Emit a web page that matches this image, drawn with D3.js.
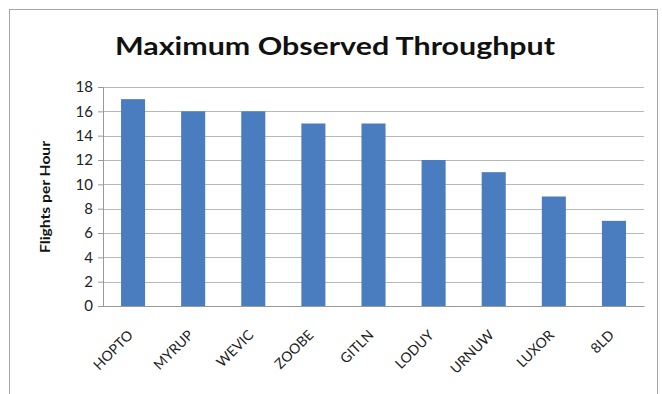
<!DOCTYPE html>
<html lang="en">
  <head>
    <meta charset="utf-8" />
    <title>Maximum Observed Throughput</title>
    <script src="https://cdn.jsdelivr.net/npm/d3@7"></script>
    <style>
      body { margin: 0; background: #fff; }
      text { font-family: Lato, "Open Sans", sans-serif; }
    </style>
  </head>
  <body>
    <div id="chart"></div>
    <script>
    // data
    var fixes = ["HOPTO", "MYRUP", "WEVIC", "ZOOBE", "GITLN", "LODUY", "URNUW", "LUXOR", "8LD"];
    var flightsPerHour = [17, 16, 16, 15, 15, 12, 11, 9, 7];
    var yTicks = [0, 2, 4, 6, 8, 10, 12, 14, 16, 18];

    var W = 662, H = 394;
    var margin = {top: 87, right: 18, bottom: 88, left: 103},
        width = W - margin.left - margin.right,
        height = H - margin.top - margin.bottom;

    var svg = d3.select("#chart")
      .append("svg")
        .attr("width", W)
        .attr("height", H);

    // outer frame
    svg.append("rect")
      .attr("x", 9.5).attr("y", 9.5)
      .attr("width", 648).attr("height", 400)
      .attr("fill", "none")
      .attr("stroke", "#a6a6a6");

    // title (the picture is stretched sideways, so stretch the text to its width)
    svg.append("text")
      .attr("x", 115).attr("y", 55)
      .attr("textLength", 440)
      .attr("lengthAdjust", "spacingAndGlyphs")
      .style("font-size", "24px")
      .style("font-weight", "bold")
      .attr("fill", "#111")
      .text("Maximum Observed Throughput");

    var g = svg.append("g")
      .attr("transform", "translate(" + margin.left + "," + margin.top + ")");

    var x = d3.scaleBand()
      .domain(fixes)
      .range([0, width])
      .paddingInner(0.6)
      .paddingOuter(0.3);

    var y = d3.scaleLinear()
      .domain([0, 18])
      .range([height, 0]);

    // gridlines
    g.append("g")
      .selectAll("line")
      .data(yTicks)
      .enter()
      .append("line")
        .attr("x1", 0).attr("x2", width)
        .attr("y1", function(d){ return Math.round(y(d)) + 0.5 })
        .attr("y2", function(d){ return Math.round(y(d)) + 0.5 })
        .attr("stroke", "#b8b8b8");

    // y axis
    var yAxis = g.append("g")
      .call(d3.axisLeft(y).tickValues(yTicks).tickSize(5).tickPadding(5));
    yAxis.select(".domain").attr("stroke", "#999");
    yAxis.selectAll(".tick line").attr("stroke", "#999");
    yAxis.selectAll("text")
      .style("font-size", "15px")
      .attr("fill", "#222");

    // bars
    g.selectAll("rect.bar")
      .data(flightsPerHour)
      .enter()
      .append("rect")
        .attr("class", "bar")
        .attr("x", function(d, i){ return x(fixes[i]) })
        .attr("y", function(d){ return y(d) })
        .attr("width", x.bandwidth())
        .attr("height", function(d){ return height - y(d) })
        .attr("fill", "#4a7cc0");

    // x axis
    var xAxis = g.append("g")
      .attr("transform", "translate(0," + height + ")")
      .call(d3.axisBottom(x).tickSize(0).tickPadding(0));
    xAxis.select(".domain").attr("stroke", "#999");
    xAxis.selectAll("text")
      .style("font-size", "14px")
      .attr("fill", "#222")
      .attr("text-anchor", "end")
      .attr("dy", 0)
      .attr("transform", "translate(1,30) rotate(-45)");

    // y axis title
    svg.append("text")
      .attr("transform", "translate(50,197) rotate(-90)")
      .attr("text-anchor", "middle")
      .attr("textLength", 112)
      .attr("lengthAdjust", "spacingAndGlyphs")
      .style("font-size", "14px")
      .style("font-weight", "bold")
      .attr("fill", "#111")
      .text("Flights per Hour");
    </script>
  </body>
</html>
